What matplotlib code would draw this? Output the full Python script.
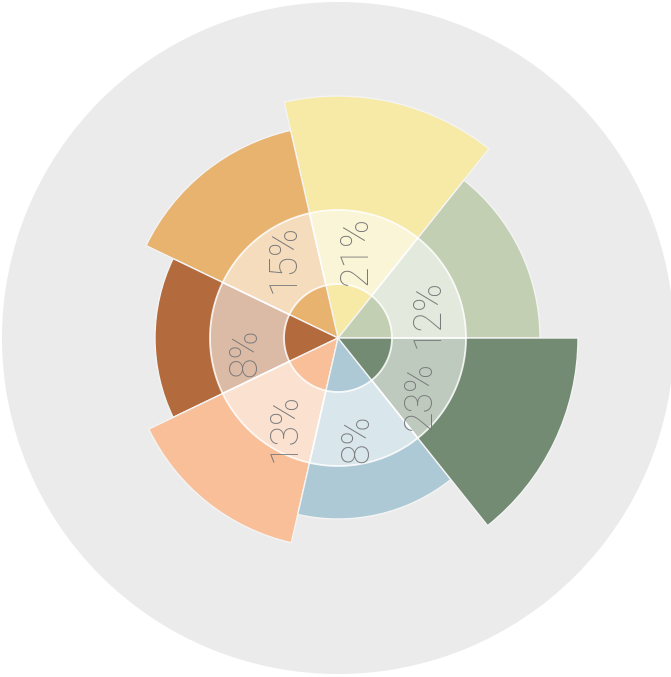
import numpy as np
import matplotlib
matplotlib.use("Agg")
import matplotlib.pyplot as plt

# wedges counter-clockwise from 0 deg (east)
shares = ["12%", "21%", "15%", "8%", "13%", "8%", "23%"]
radii = [202, 242, 213, 183, 210, 181, 240]
colors = ["#c2cfb2", "#f6eaa6", "#e8b36f", "#b36a3c", "#f8bf98", "#adc9d5", "#738b72"]

# where the percentage labels sit (degrees, radius)
label_deg = [15, 78, 124, 189, 239, 281, 325]
label_r = [93, 89, 96, 94, 104, 103, 100]

W, H = 671, 677
cx, cy, R = 338, 338, 336
ring_in, ring_out = 54, 128

fig = plt.figure(figsize=(W / 100, H / 100), dpi=100)
fig.patch.set_facecolor("white")
ax = fig.add_axes([(cx - R) / W, (H - cy - R) / H, 2 * R / W, 2 * R / H], projection="polar")
ax.set_facecolor("#ebebeb")
ax.set_ylim(0, R)
ax.spines["polar"].set_visible(False)
ax.set_xticks([])
ax.set_yticks([])
ax.grid(False)

n = len(radii)
width = 2 * np.pi / n
theta = np.arange(n) * width + width / 2

ax.bar(theta, radii, width=width, color=colors, edgecolor="#f4f4f4", linewidth=1.0, zorder=2)

# translucent white ring
ax.bar(theta, ring_out - ring_in, width=width, bottom=ring_in, color="white", alpha=0.55,
       edgecolor="none", zorder=3)
t = np.linspace(0, 2 * np.pi, 400)
for r in (ring_in, ring_out):
    ax.plot(t, np.full_like(t, r), color="white", lw=1.3, alpha=0.85, zorder=4)
for a in np.arange(n) * width:
    ax.plot([a, a], [ring_in, ring_out], color="white", lw=1.2, alpha=0.85, zorder=4)

for deg, r, s in zip(label_deg, label_r, shares):
    ax.text(np.deg2rad(deg), r, s, rotation=90, ha="center", va="center", fontsize=27,
            color="#7a7a7c", family="Roboto", fontweight="light", zorder=6)

fig.savefig("out.png", dpi=100, facecolor="white")
